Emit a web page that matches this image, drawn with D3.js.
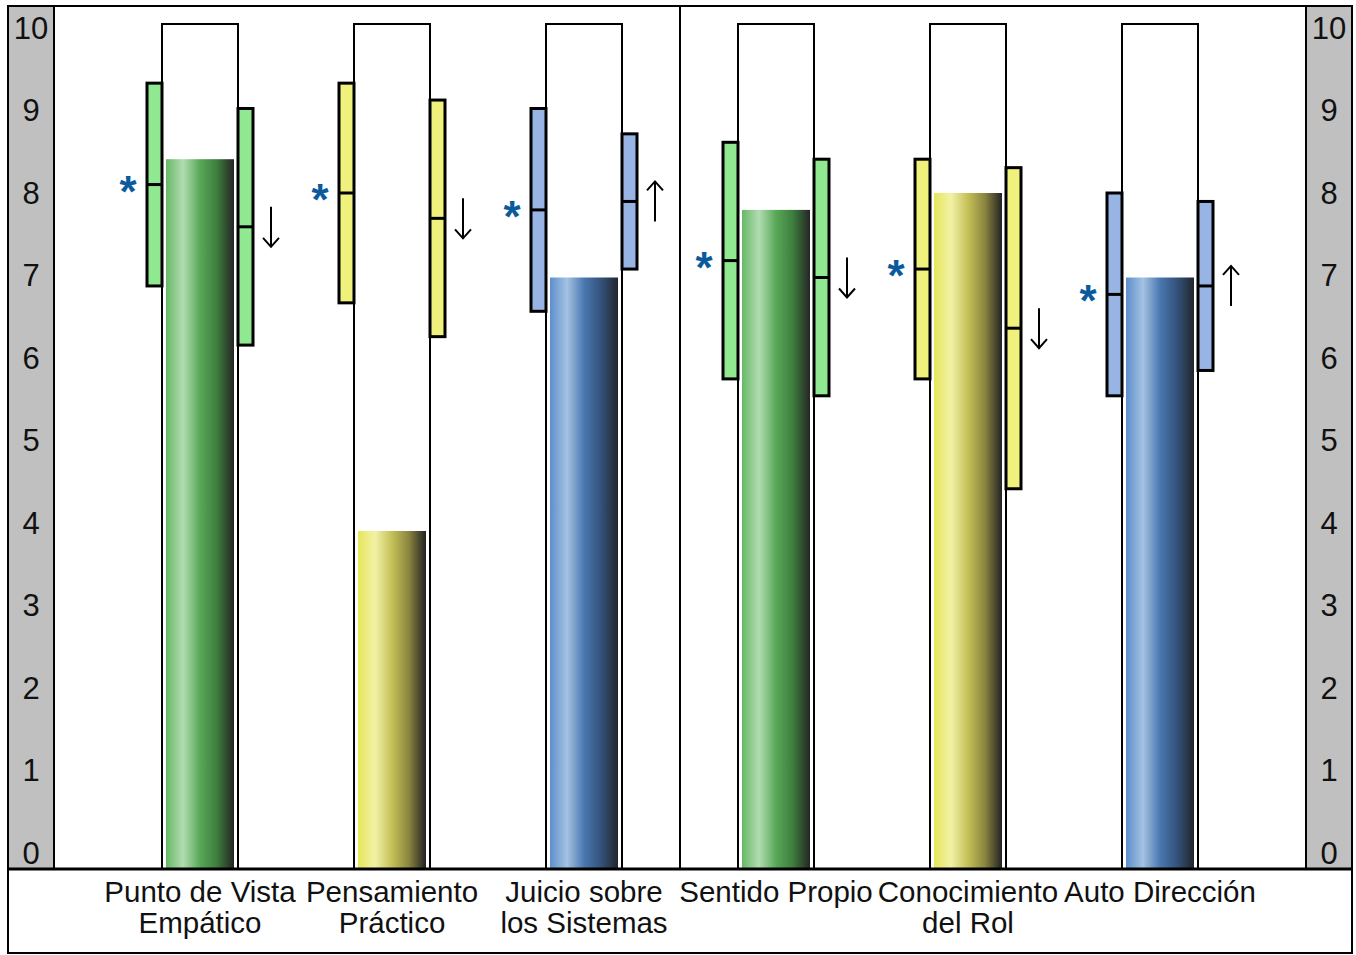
<!DOCTYPE html>
<html>
<head>
<meta charset="utf-8">
<script src="https://cdn.jsdelivr.net/npm/d3@7/dist/d3.min.js"></script>
<style>
  body { margin: 0; background: #fff; }
  svg { display: block; font-family: "Liberation Sans", Arial, sans-serif; }
</style>
</head>
<body>
<div id="chart"></div>
<script>
// Data
const categories = [
  ['Punto de Vista', 'Empático'],
  ['Pensamiento', 'Práctico'],
  ['Juicio sobre', 'los Sistemas'],
  ['Sentido Propio'],
  ['Conocimiento', 'del Rol'],
  ['Auto Dirección']
];
const colorKeys = ['green', 'yellow', 'blue', 'green', 'yellow', 'blue'];
const scores = [8.4, 4.0, 7.0, 7.8, 8.0, 7.0];
// left range: low / mid / high
const leftLow = [6.9, 6.7, 6.6, 5.8, 5.8, 5.6];
const leftMid = [8.1, 8.0, 7.8, 7.2, 7.1, 6.8];
const leftHigh = [9.3, 9.3, 9.0, 8.6, 8.4, 8.0];
// right range: low / mid / high
const rightLow = [6.2, 6.3, 7.1, 5.6, 4.5, 5.9];
const rightMid = [7.6, 7.7, 7.9, 7.0, 6.4, 6.9];
const rightHigh = [9.0, 9.1, 8.7, 8.4, 8.3, 7.9];
const arrows = ['down', 'down', 'up', 'down', 'down', 'up'];
const ticks = [0, 1, 2, 3, 4, 5, 6, 7, 8, 9, 10];

const palette = {
  green: { box: '#90e890', stops: ['#66b866', '#b2dcb2', '#58a858', '#3d7d3d', '#252525'] },
  yellow: { box: '#f0f07c', stops: ['#e6e65a', '#f2f2a8', '#c4c056', '#8a8440', '#222222'] },
  blue: { box: '#98b4e4', stops: ['#5e8ecc', '#a4c2e2', '#4a78b0', '#34527a', '#22262c'] }
};

const W = 1356, H = 955;
const mLeft = 8, mRight = 1352, mTop = 6, plotBottom = 869, mBottom = 953;
const panelW = 46;

const svg = d3.select('#chart').append('svg').attr('width', W).attr('height', H);

const defs = svg.append('defs');
Object.entries(palette).forEach(([k, p]) => {
  const g = defs.append('linearGradient').attr('id', 'grad-' + k)
    .attr('x1', '0%').attr('x2', '100%').attr('y1', '0%').attr('y2', '0%');
  [0, 0.25, 0.5, 0.75, 1].forEach((o, i) => {
    g.append('stop').attr('offset', o * 100 + '%').attr('stop-color', p.stops[i]);
  });
});

const y = d3.scaleLinear().domain([0, 10]).range([plotBottom, 24]);
// tick labels sit slightly inset from the frame
const yLabel = d3.scaleLinear().domain([0, 10]).range([853, 28]);
const x = d3.scaleBand().domain(d3.range(categories.length))
  .range([mLeft + panelW, mRight - panelW]).paddingInner(0).paddingOuter(50 / 192);

// gray side panels
svg.append('rect').attr('x', mLeft).attr('y', mTop).attr('width', panelW).attr('height', plotBottom - mTop)
  .attr('fill', '#c0c0c0');
svg.append('rect').attr('x', mRight - panelW).attr('y', mTop).attr('width', panelW).attr('height', plotBottom - mTop)
  .attr('fill', '#c0c0c0');

[mLeft + panelW / 2, mRight - panelW / 2].forEach(cx => {
  svg.append('g').selectAll('text').data(ticks).join('text')
    .attr('x', cx).attr('y', d => yLabel(d))
    .attr('text-anchor', 'middle').attr('dominant-baseline', 'central')
    .attr('font-size', 31).attr('fill', '#111')
    .text(d => d);
});

const bw = x.bandwidth();
const frameW = 76, barW = 68, boxW = 15;

const groups = svg.append('g').selectAll('g').data(categories).join('g')
  .attr('transform', (d, i) => `translate(${x(i) + bw / 2},0)`);

// white frame
groups.append('rect')
  .attr('x', -frameW / 2).attr('y', y(10)).attr('width', frameW).attr('height', y(0) - y(10))
  .attr('fill', '#fff').attr('stroke', '#000').attr('stroke-width', 2);

// score bar
groups.append('rect')
  .attr('x', -barW / 2).attr('width', barW)
  .attr('y', (d, i) => y(scores[i])).attr('height', (d, i) => y(0) - y(scores[i]))
  .attr('fill', (d, i) => `url(#grad-${colorKeys[i]})`);

// range boxes
function rangeBox(sel, xOff, lows, mids, highs) {
  sel.append('rect')
    .attr('x', xOff).attr('width', boxW)
    .attr('y', (d, i) => y(highs[i])).attr('height', (d, i) => y(lows[i]) - y(highs[i]))
    .attr('fill', (d, i) => palette[colorKeys[i]].box)
    .attr('stroke', '#000').attr('stroke-width', 3);
  sel.append('line')
    .attr('x1', xOff).attr('x2', xOff + boxW)
    .attr('y1', (d, i) => y(mids[i])).attr('y2', (d, i) => y(mids[i]))
    .attr('stroke', '#000').attr('stroke-width', 3);
}
rangeBox(groups, -frameW / 2 - boxW, leftLow, leftMid, leftHigh);
rangeBox(groups, frameW / 2, rightLow, rightMid, rightHigh);

// asterisks
groups.append('text')
  .attr('x', -frameW / 2 - boxW - 19).attr('y', (d, i) => y(leftMid[i]) + 22)
  .attr('text-anchor', 'middle').attr('font-size', 44).attr('font-weight', 'bold')
  .attr('fill', '#0a5a9c').text('*');

// arrows
const arrowX = frameW / 2 + boxW + 18;
groups.each(function (d, i) {
  const g = d3.select(this);
  const cy = y(rightMid[i]);
  const up = arrows[i] === 'up';
  const y1 = cy - 20, y2 = cy + 20;
  g.append('line').attr('x1', arrowX).attr('x2', arrowX).attr('y1', y1).attr('y2', y2)
    .attr('stroke', '#000').attr('stroke-width', 2);
  const tip = up ? y1 : y2;
  const dir = up ? 1 : -1;
  g.append('path')
    .attr('d', `M${arrowX - 8},${tip + dir * 9}L${arrowX},${tip}L${arrowX + 8},${tip + dir * 9}`)
    .attr('fill', 'none').attr('stroke', '#000').attr('stroke-width', 2);
});

// category labels
groups.append('text')
  .attr('text-anchor', 'middle').attr('font-size', 29.5).attr('fill', '#111')
  .selectAll('tspan').data(d => d).join('tspan')
  .attr('x', 0).attr('y', (d, j) => 902 + j * 31)
  .text(d => d);

// divider and frame lines
const divX = (x(2) + bw + x(3)) / 2;
svg.append('line').attr('x1', divX).attr('x2', divX)
  .attr('y1', mTop).attr('y2', plotBottom).attr('stroke', '#000').attr('stroke-width', 2);
svg.append('line').attr('x1', mLeft + panelW).attr('x2', mLeft + panelW)
  .attr('y1', mTop).attr('y2', plotBottom).attr('stroke', '#000').attr('stroke-width', 2);
svg.append('line').attr('x1', mRight - panelW).attr('x2', mRight - panelW)
  .attr('y1', mTop).attr('y2', plotBottom).attr('stroke', '#000').attr('stroke-width', 2);
svg.append('line').attr('x1', mLeft).attr('x2', mRight)
  .attr('y1', plotBottom).attr('y2', plotBottom).attr('stroke', '#000').attr('stroke-width', 3);
svg.append('rect').attr('x', mLeft).attr('y', mTop).attr('width', mRight - mLeft).attr('height', mBottom - mTop)
  .attr('fill', 'none').attr('stroke', '#000').attr('stroke-width', 2);
</script>
</body>
</html>
